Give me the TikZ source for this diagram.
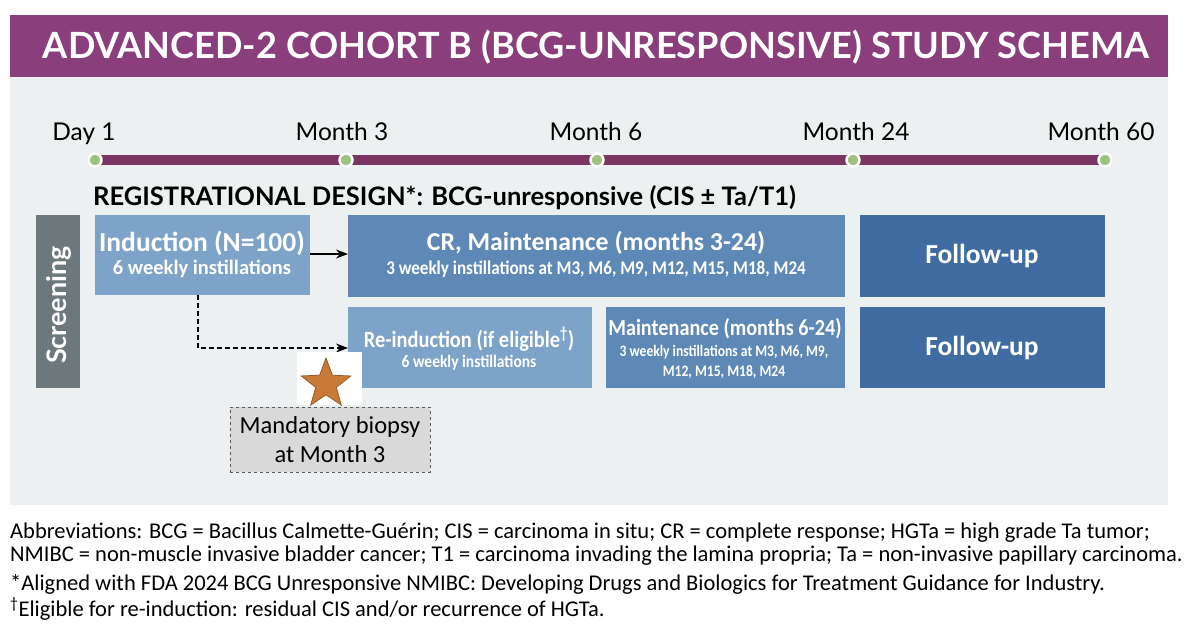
\documentclass[tikz,border=0pt]{standalone}
\usepackage{fontspec}
\setmainfont{Lato}
\newfontfamily\narrow{Carlito}
\usetikzlibrary{shapes.geometric,arrows.meta}
\definecolor{titlepurple}{HTML}{8A3E7C}
\definecolor{barpurple}{HTML}{7A3563}
\definecolor{panelgray}{HTML}{EDF0F0}
\definecolor{lightblue}{HTML}{7EA3C8}
\definecolor{midblue}{HTML}{5E89B6}
\definecolor{darkblue}{HTML}{416CA2}
\definecolor{screengray}{HTML}{6C787C}
\definecolor{dotgreen}{HTML}{9CC47F}
\definecolor{starorange}{HTML}{C97A36}
\definecolor{biopsygray}{HTML}{D9D9D9}
\begin{document}
\begin{tikzpicture}[x=1pt,y=-1pt,
  tick/.style={circle,fill=dotgreen,draw=white,line width=2.5pt,minimum size=13pt,inner sep=0pt},
  timelabel/.style={font=\fontsize{24.5}{26}\selectfont,anchor=base,inner sep=0pt},
  wtxt/.style={text=white,inner sep=0pt,align=center},
  foot/.style={anchor=base west,inner sep=0pt,font=\narrow\fontsize{22.5}{24}\selectfont},
  arr/.style={-{Stealth[length=12pt,width=9pt]},line width=1.3pt}
]
\useasboundingbox (0,0) rectangle (1200,633);
\fill[white] (0,0) rectangle (1200,633);
% panels
\fill[titlepurple] (10,15) rectangle (1168,77);
\fill[panelgray] (10,77) rectangle (1168,505);
\node[text=white,inner sep=0pt] (title) at (596,47) {\resizebox{1106pt}{!}{\fontsize{30}{30}\selectfont\bfseries ADVANCED-2 COHORT B (BCG-UNRESPONSIVE) STUDY SCHEMA}};
% timeline
\fill[barpurple] (95,155) rectangle (1105,165);
\node[tick] (t1) at (95,160) {};
\node[tick] (t2) at (346,160) {};
\node[tick] (t3) at (597,160) {};
\node[tick] (t4) at (853,160) {};
\node[tick] (t5) at (1105,160) {};
\node[timelabel] (l1) at (84,140) {Day 1};
\node[timelabel] (l2) at (342,140) {Month 3};
\node[timelabel] (l3) at (596,140) {Month 6};
\node[timelabel] (l4) at (856,140) {Month 24};
\node[timelabel] (l5) at (1101,140) {Month 60};
\node[anchor=base west,inner sep=0pt,font=\bfseries\fontsize{25.5}{28}\selectfont] (reg) at (93,205) {REGISTRATIONAL DESIGN*: BCG-unresponsive (CIS \char"00B1{} Ta/T1)};
% boxes
\fill[screengray] (36,215) rectangle (80,388);
\node[rotate=90,wtxt,font=\bfseries\fontsize{27}{28}\selectfont] (scr) at (59,305) {Screening};

\fill[lightblue] (95,215) rectangle (310,295);
\node[wtxt,font=\narrow\bfseries\fontsize{27.5}{29}\selectfont] (indt) at (202,243) {Induction (N=100)};
\node[wtxt,font=\narrow\bfseries\fontsize{20.5}{22}\selectfont] (inds) at (202,269) {6 weekly instillations};

\fill[midblue] (348,215) rectangle (845,297);
\node[wtxt,font=\narrow\bfseries\fontsize{25.8}{28}\selectfont] (crt) at (596,243) {CR, Maintenance (months 3-24)};
\node[wtxt,font=\narrow\bfseries\fontsize{19.4}{21}\selectfont] (crs) at (596,269) {\scalebox{0.88}[1]{3 weekly instillations at M3, M6, M9, M12, M15, M18, M24}};

\fill[darkblue] (860,215) rectangle (1105,297);
\node[wtxt,font=\narrow\bfseries\fontsize{27.5}{29}\selectfont] (fu1) at (982,256) {Follow-up};

\fill[lightblue] (348,307) rectangle (592,388);
\node[wtxt,font=\narrow\bfseries\fontsize{23.2}{25}\selectfont] (ret) at (469,339) {\scalebox{0.88}[1]{Re-induction (if eligible\textsuperscript{\char"2020})}};
\node[wtxt,font=\narrow\bfseries\fontsize{17.6}{19}\selectfont] (res) at (469,363) {\scalebox{0.88}[1]{6 weekly instillations}};

\fill[midblue] (606,307) rectangle (845,388);
\node[wtxt,font=\narrow\bfseries\fontsize{23}{25}\selectfont] (mt) at (725,329) {\scalebox{0.88}[1]{Maintenance (months 6-24)}};
\node[wtxt,font=\narrow\bfseries\fontsize{16}{20}\selectfont] (ms) at (724,362) {\scalebox{0.85}[1]{3 weekly instillations at M3, M6, M9,}\\\scalebox{0.85}[1]{M12, M15, M18, M24}};

\fill[darkblue] (860,307) rectangle (1105,388);
\node[wtxt,font=\narrow\bfseries\fontsize{27.5}{29}\selectfont] (fu2) at (982,348) {Follow-up};

% connectors
\coordinate (a1) at (310,254);
\coordinate (a2) at (348,254);
\draw[arr] (a1) -- (a2);
\coordinate (d0) at (198,295);
\coordinate (d1) at (348,348);
\draw[arr,line width=1.2pt,dash pattern=on 5pt off 3pt] (d0) |- (d1);

% star
\fill[white] (297,352) rectangle (362,405);
\node[star,star points=5,star point ratio=2.4,fill=starorange,draw=starorange!75!black,line width=0.8pt,minimum size=52pt,inner sep=0pt] (star) at (326,384) {};

% biopsy
\node[draw=gray!70!black,dashed,line width=0.8pt,fill=biopsygray,minimum width=200pt,minimum height=65pt,align=center,inner sep=0pt,font=\narrow\fontsize{24.5}{29}\selectfont] (bio) at (330,439.5) {Mandatory biopsy\\at Month 3};

% footnotes
\node[foot] (f1) at (10,538) {Abbreviations: BCG = Bacillus Calmette-Gu\'erin; CIS = carcinoma in situ; CR = complete response; HGTa = high grade Ta tumor;};
\node[foot] (f2) at (10,561) {NMIBC = non-muscle invasive bladder cancer; T1 = carcinoma invading the lamina propria; Ta = non-invasive papillary carcinoma.};
\node[foot] (f3) at (10,590) {*Aligned with FDA 2024 BCG Unresponsive NMIBC: Developing Drugs and Biologics for Treatment Guidance for Industry.};
\node[foot] (f4) at (10,616) {\textsuperscript{\char"2020}Eligible for re-induction: residual CIS and/or recurrence of HGTa.};
\end{tikzpicture}
\end{document}
